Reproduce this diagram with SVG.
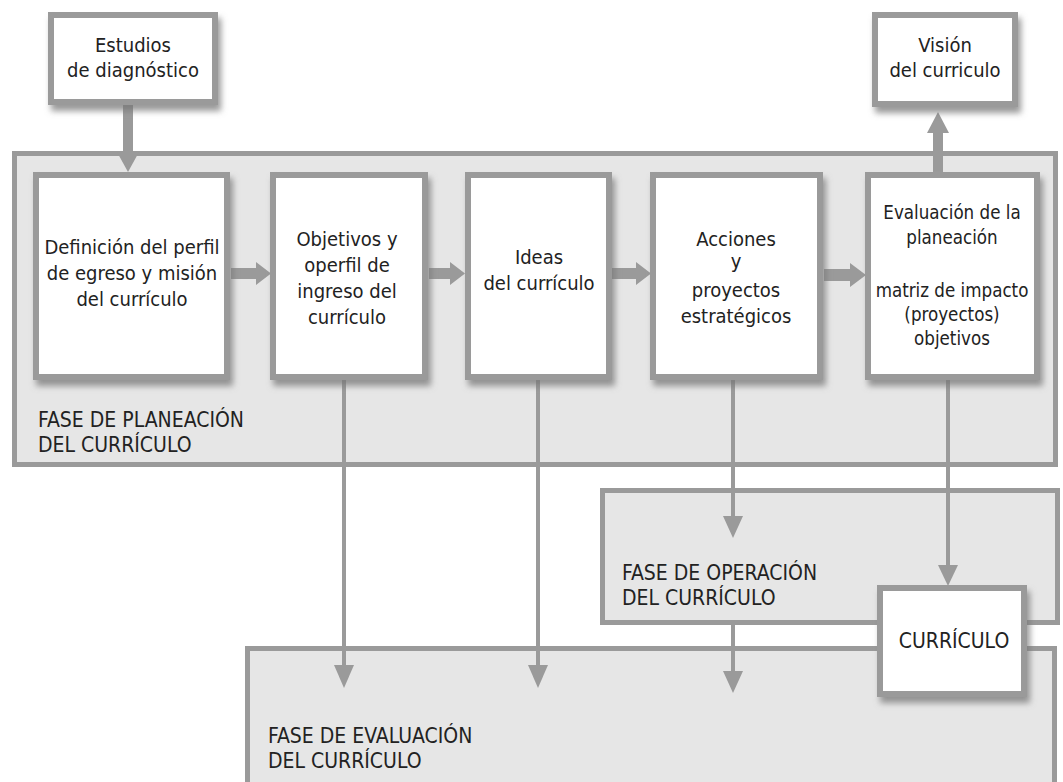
<svg xmlns="http://www.w3.org/2000/svg" width="1063" height="782" viewBox="0 0 1063 782">
<defs>
<filter id="sh" x="-10%" y="-10%" width="125%" height="135%">
<feDropShadow dx="3" dy="6" stdDeviation="3" flood-color="#777" flood-opacity="0.75"/>
</filter>
<style>
.phase{fill:#e6e6e6;stroke:#9a9a9a;stroke-width:5}
.box{fill:#fff;stroke:#9a9a9a;stroke-width:6;filter:url(#sh)}
.t{font-family:"DejaVu Sans Condensed","DejaVu Sans",sans-serif;font-size:20px;fill:#222;text-anchor:middle}
.s{font-size:18.6px}
.lbl{font-family:"DejaVu Sans Condensed","DejaVu Sans",sans-serif;font-size:21px;fill:#222}
.ln{stroke:#9a9a9a;stroke-width:4;fill:none}
.ah{fill:#9a9a9a}
</style>
</defs>
<rect width="1063" height="782" fill="#fff"/>
<g id="fase-planeacion">
<rect class="phase" x="14.5" y="153.5" width="1041" height="311"/>
<text class="lbl" x="38"><tspan x="38" y="427">FASE DE PLANEACIÓN</tspan><tspan x="38" y="452">DEL CURRÍCULO</tspan></text>
</g>
<g id="fase-operacion">
<rect class="phase" x="602.5" y="490.5" width="455" height="132"/>
<text class="lbl"><tspan x="622" y="580">FASE DE OPERACIÓN</tspan><tspan x="622" y="605">DEL CURRÍCULO</tspan></text>
</g>
<g id="fase-evaluacion">
<rect class="phase" x="247.5" y="648.5" width="807" height="200"/>
<text class="lbl"><tspan x="268" y="743">FASE DE EVALUACIÓN</tspan><tspan x="268" y="768">DEL CURRÍCULO</tspan></text>
</g>
<g id="connectors">
<path class="ah" d="M123,104 V152 H117 L128,172 L139,152 H133 V104 Z"/>
<path class="ah" d="M933,172 V133 H927 L938,112 L949,133 H943 V172 Z"/>
<path class="ah" d="M231,268 H256 V262 L271,273.5 L256,285 V279 H231 Z"/>
<path class="ah" d="M429,268 H450 V262 L465,273.5 L450,285 V279 H429 Z"/>
<path class="ah" d="M612,268 H636 V262 L651,273.5 L636,285 V279 H612 Z"/>
<path class="ah" d="M824,269 H850 V263 L866,275 L850,287 V281 H824 Z"/>
<line class="ln" x1="344" y1="380" x2="344" y2="667"/>
<polygon class="ah" points="334,665 354,665 344,688"/>
<line class="ln" x1="538" y1="380" x2="538" y2="667"/>
<polygon class="ah" points="528,665 548,665 538,688"/>
<line class="ln" x1="733" y1="380" x2="733" y2="518"/>
<polygon class="ah" points="723,516 743,516 733,538"/>
<line class="ln" x1="733" y1="623" x2="733" y2="673"/>
<polygon class="ah" points="723,671 743,671 733,693"/>
<line class="ln" x1="948" y1="380" x2="948" y2="567"/>
<polygon class="ah" points="938,565 958,565 948,586"/>
</g>
<g id="estudios">
<rect class="box" x="51" y="15" width="164" height="87"/>
<text class="t"><tspan x="133" y="52">Estudios</tspan><tspan x="133" y="77">de diagnóstico</tspan></text>
</g>
<g id="vision">
<rect class="box" x="875" y="15" width="140" height="89"/>
<text class="t"><tspan x="945" y="52">Visión</tspan><tspan x="945" y="77">del curriculo</tspan></text>
</g>
<g id="definicion">
<rect class="box" x="36" y="175" width="191" height="202"/>
<text class="t"><tspan x="132" y="254">Definición del perfil</tspan><tspan x="132" y="280">de egreso y misión</tspan><tspan x="132" y="306">del currículo</tspan></text>
</g>
<g id="objetivos">
<rect class="box" x="273" y="175" width="152" height="202"/>
<text class="t"><tspan x="347" y="246">Objetivos y</tspan><tspan x="347" y="272">operfil de</tspan><tspan x="347" y="298">ingreso del</tspan><tspan x="347" y="324">currículo</tspan></text>
</g>
<g id="ideas">
<rect class="box" x="468" y="175" width="141" height="202"/>
<text class="t"><tspan x="539" y="264">Ideas</tspan><tspan x="539" y="290">del currículo</tspan></text>
</g>
<g id="acciones">
<rect class="box" x="653" y="175" width="167" height="202"/>
<text class="t"><tspan x="736" y="246">Acciones</tspan><tspan x="736" y="268">y</tspan><tspan x="736" y="297">proyectos</tspan><tspan x="736" y="323">estratégicos</tspan></text>
</g>
<g id="evaluacion-planeacion">
<rect class="box" x="868" y="175" width="169" height="202"/>
<text class="t s"><tspan x="952" y="219">Evaluación de la</tspan><tspan x="952" y="244">planeación</tspan><tspan x="952" y="297">matriz de impacto</tspan><tspan x="952" y="321">(proyectos)</tspan><tspan x="952" y="345">objetivos</tspan></text>
</g>
<g id="curriculo">
<rect class="box" x="880" y="588" width="144" height="106"/>
<text class="t" style="font-size:21px"><tspan x="954" y="648">CURRÍCULO</tspan></text>
</g>
</svg>
